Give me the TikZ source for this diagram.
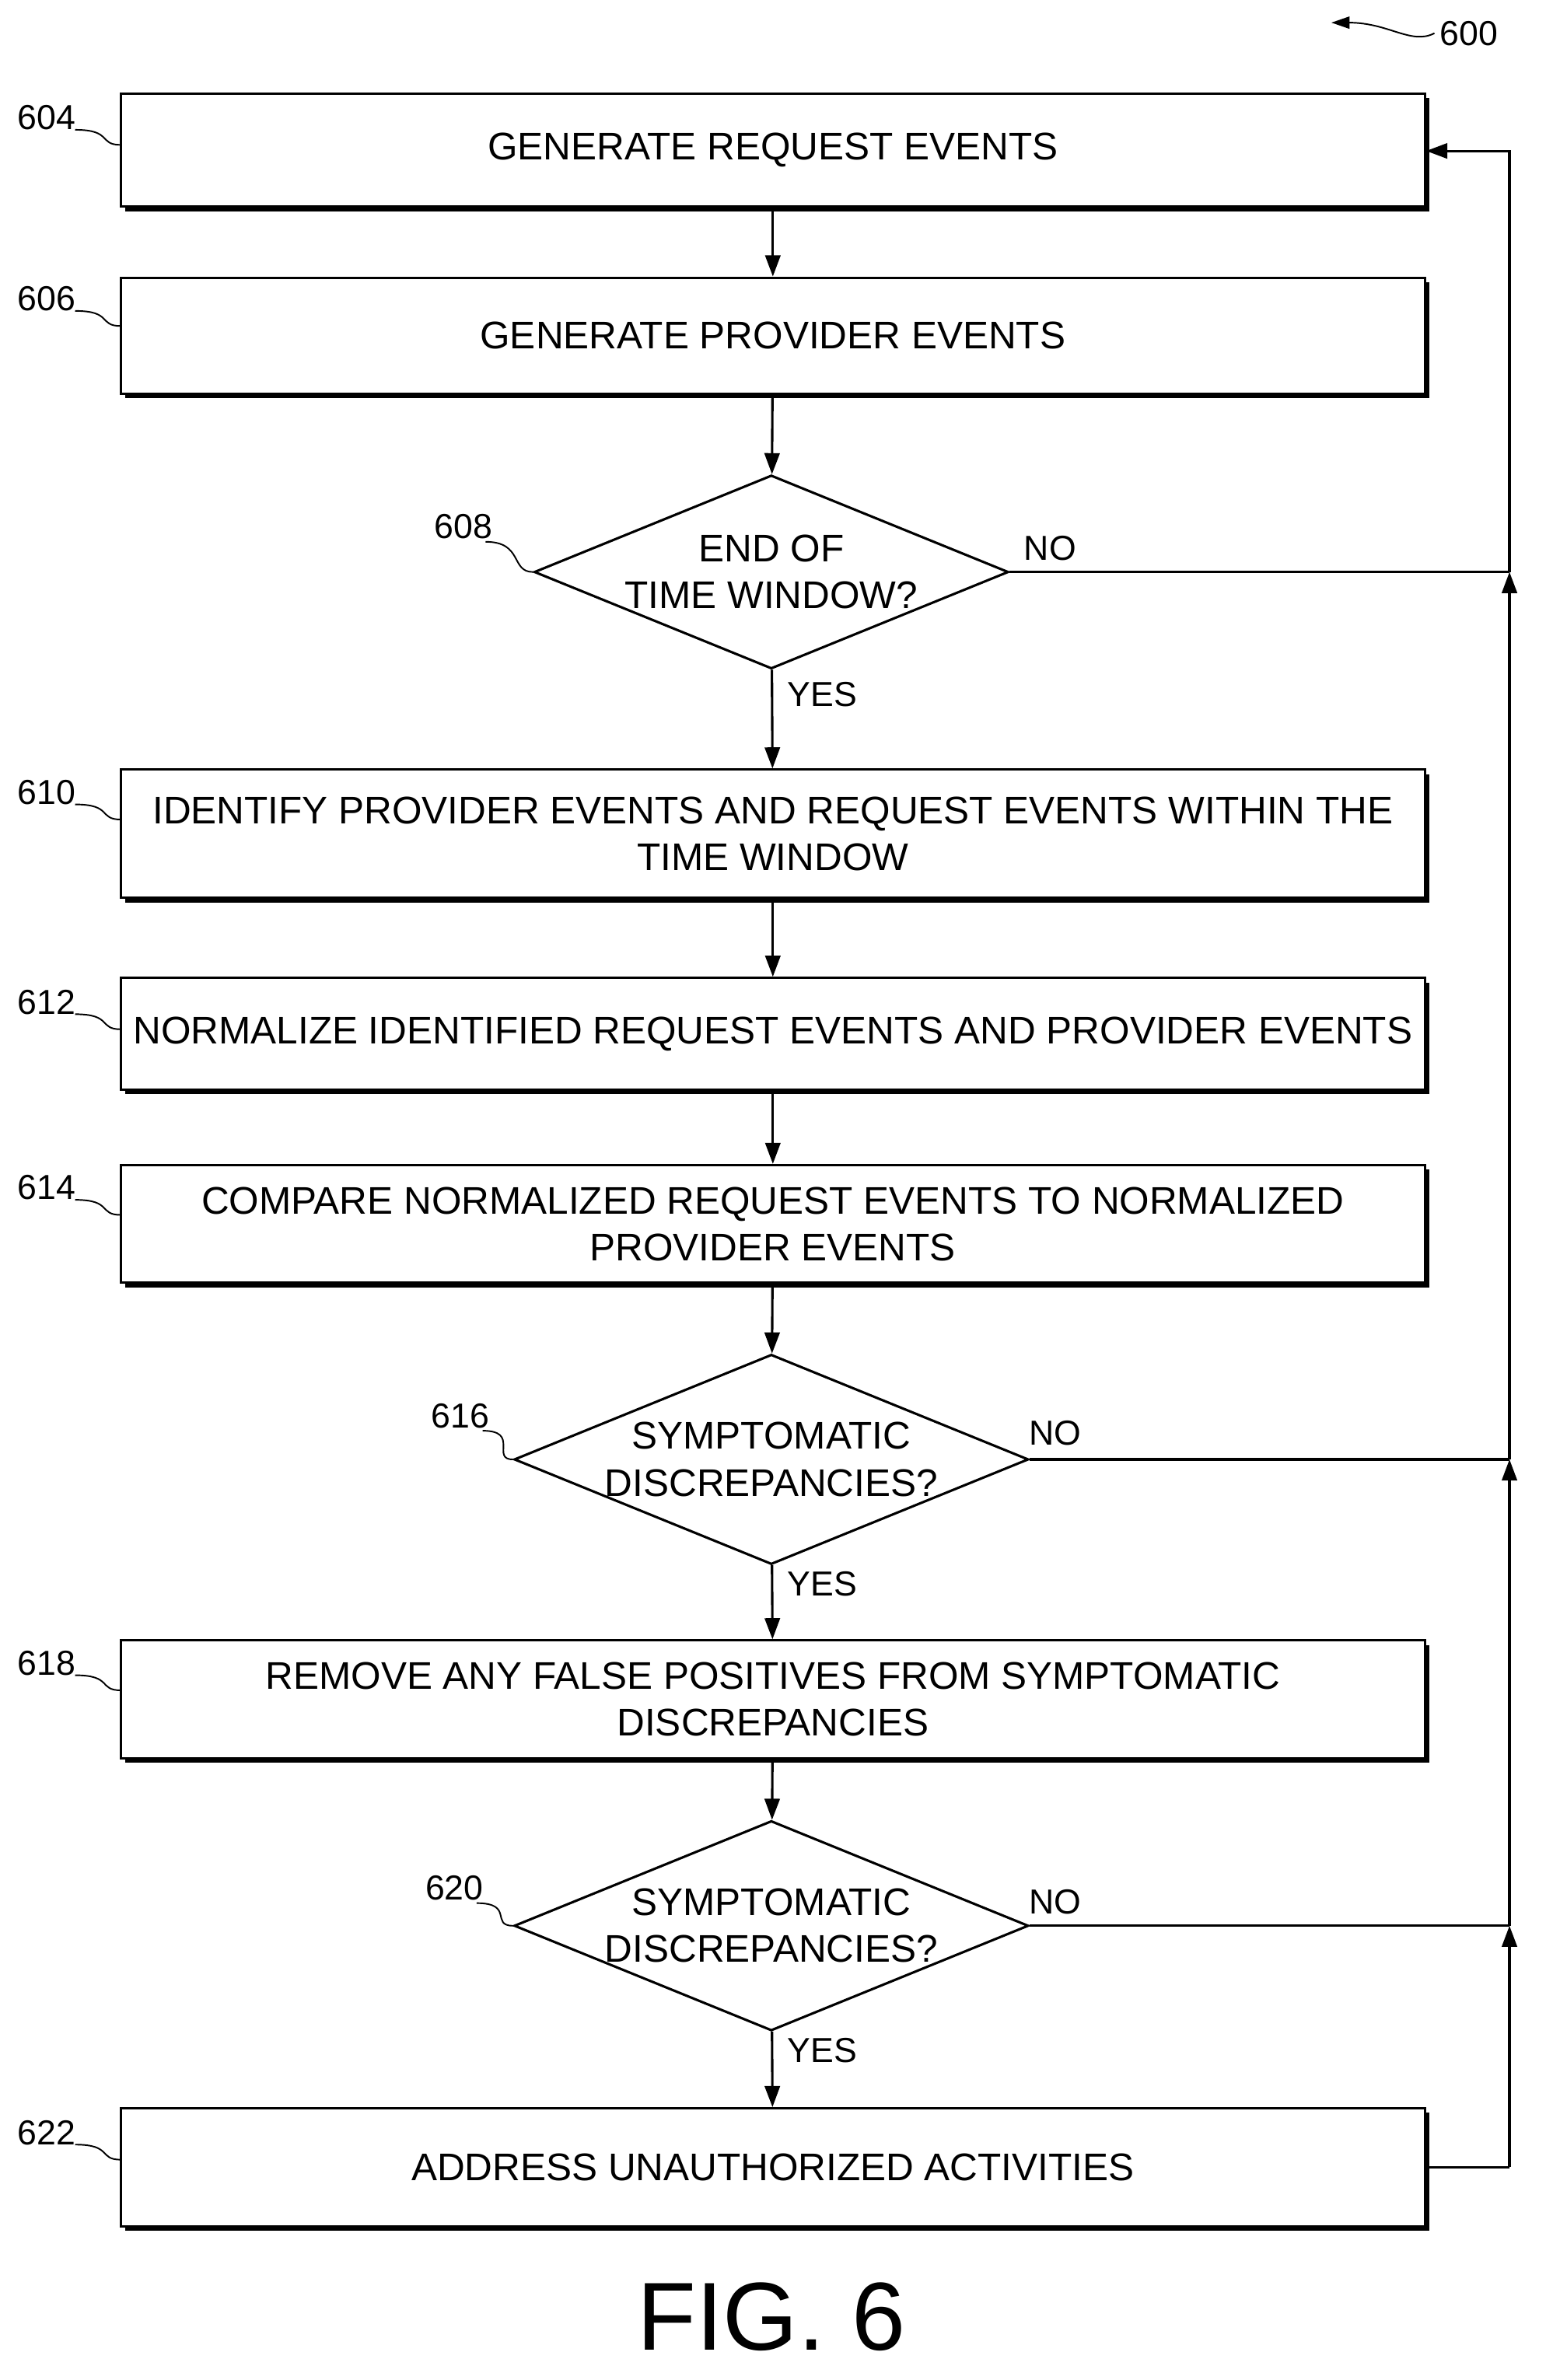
\documentclass[tikz,border=0pt]{standalone}
\usepackage{fontspec}
\setmainfont{Liberation Sans}
\usetikzlibrary{shapes.geometric,arrows.meta}
\begin{document}
\begin{tikzpicture}[x=1pt,y=-1pt,
 box/.style={draw,line width=1.6pt,minimum width=864pt,align=center,font=\fontsize{25.5}{31}\selectfont},
 dia/.style={draw,diamond,line width=1.6pt,aspect=2.45,inner sep=0pt,align=center,font=\fontsize{25.5}{31}\selectfont},
 lbl/.style={font=\fontsize{23}{27}\selectfont},
 arr/.style={line width=1.6pt,-{Triangle[length=14pt,width=10pt]}},
 ln/.style={line width=1.6pt}]
\useasboundingbox (0,0) rectangle (1024,1577);
\def\bx#1#2#3#4{%
 \fill (83,#3+3) rectangle (947,#4+3);
 \node[box,fill=white,minimum height=#4-#3] (#1) at (512,{(#3+#4)/2}) {#2};}
\bx{b604}{GENERATE REQUEST EVENTS}{62}{137}
\bx{b606}{GENERATE PROVIDER EVENTS}{184}{261}
\bx{b610}{IDENTIFY PROVIDER EVENTS AND REQUEST EVENTS WITHIN THE\\TIME WINDOW}{510}{595}
\bx{b612}{NORMALIZE IDENTIFIED REQUEST EVENTS AND PROVIDER EVENTS}{648}{722}
\bx{b614}{COMPARE NORMALIZED REQUEST EVENTS TO NORMALIZED\\PROVIDER EVENTS}{772}{850}
\bx{b618}{REMOVE ANY FALSE POSITIVES FROM SYMPTOMATIC\\DISCREPANCIES}{1087}{1165}
\bx{b622}{ADDRESS UNAUTHORIZED ACTIVITIES}{1397}{1475}
\node[dia,minimum width=314pt,minimum height=128pt] (d608) at (511,379) {END OF\\TIME WINDOW?};
\node[dia,minimum width=336pt,minimum height=136pt] (d616) at (511,967) {SYMPTOMATIC\\DISCREPANCIES?};
\node[dia,minimum width=336pt,minimum height=136pt] (d620) at (511,1276) {SYMPTOMATIC\\DISCREPANCIES?};
\draw[arr] (b604) -- (b606);
\draw[arr] (b606) -- (d608);
\draw[arr] (d608) -- node[right,lbl,pos=0.25,xshift=6pt]{YES} (b610);
\draw[arr] (b610) -- (b612);
\draw[arr] (b612) -- (b614);
\draw[arr] (b614) -- (d616);
\draw[arr] (d616) -- node[right,lbl,pos=0.25,xshift=6pt]{YES} (b618);
\draw[arr] (b618) -- (d620);
\draw[arr] (d620) -- node[right,lbl,pos=0.25,xshift=6pt]{YES} (b622);
\coordinate (j1) at (1000,379);
\coordinate (j2) at (1000,967);
\coordinate (j3) at (1000,1276);
\coordinate (j4) at (1000,1436);
\coordinate (j0) at (1000,100);
\draw[ln] (d608.east) -- (j1);
\draw[ln] (d616.east) -- (j2);
\draw[ln] (d620.east) -- (j3);
\node[lbl,anchor=south west] at ([shift={(6,-4)}]d608.east) {NO};
\node[lbl,anchor=south west] at ([shift={(-4,-6)}]d616.east) {NO};
\node[lbl,anchor=south west] at ([shift={(-4,-4)}]d620.east) {NO};
\draw[ln] (b622.east |- j4) -- (j4);
\draw[arr] (j4) -- (j3);
\draw[arr] (j3) -- (j2);
\draw[arr] (j2) -- (j1);
\draw[arr] (j1) -- (j0) -- (b604.east |- j0);
\foreach \n/\t/\y in {604/b604/78,606/b606/198,610/b610/525,612/b612/664,614/b614/787,618/b618/1102,622/b622/1413}{
 \node[lbl] (l\n) at (31,\y) {\n};
 \draw[line width=1pt] (l\n.east) ++(-4,8) .. controls +(25,0) and +(-15,0) .. (80,\y+18);}
\node[lbl] (l608) at (307,349) {608};
\draw[line width=1pt] (l608.east) ++(-8,10) .. controls +(25,0) and +(-15,0) .. (d608.west);
\node[lbl] (l616) at (305,938) {616};
\draw[line width=1pt] (l616.east) ++(-8,10) .. controls +(25,0) and +(-15,0) .. (d616.west);
\node[lbl] (l620) at (301,1251) {620};
\draw[line width=1pt] (l620.east) ++(-8,10) .. controls +(25,0) and +(-15,0) .. (d620.west);
\node[lbl] (l600) at (973,22) {600};
\coordinate (a600) at (882,15);
\draw[line width=1pt,-{Triangle[length=12pt,width=8pt]}] (l600.west) .. controls (935,30) and (920,15) .. (a600);
\node[font=\fontsize{64}{70}\selectfont] (fig) at (511,1535) {FIG. 6};
\end{tikzpicture}
\end{document}
